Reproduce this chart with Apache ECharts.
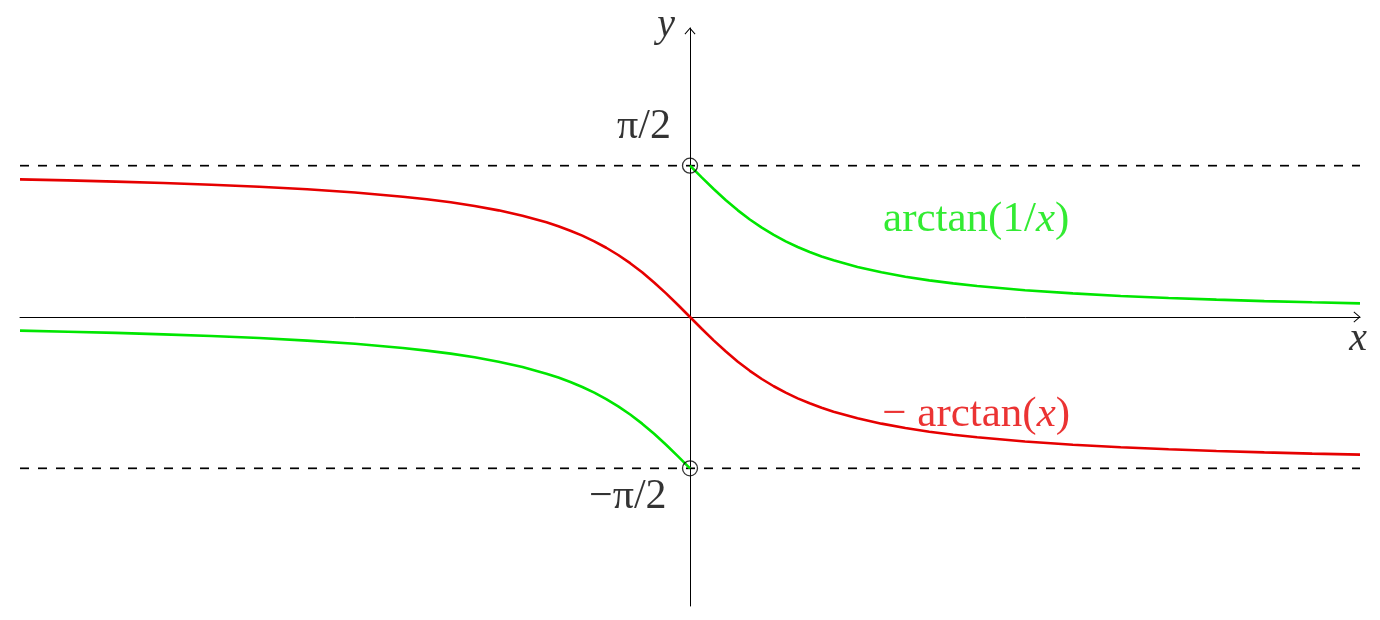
<!DOCTYPE html>
<html>
<head>
<meta charset="utf-8">
<script src="https://cdn.jsdelivr.net/npm/echarts@6/dist/echarts.min.js"></script>
<style>html,body{margin:0;padding:0;background:#fff;}#c{width:1380px;height:620px;}</style>
</head>
<body>
<div id="c"></div>
<script>
// -arctan(x)
const redX = [-7,-6.5,-6,-5.5,-5,-4.5,-4,-3.5,-3,-2.75,-2.5,-2.25,-2,-1.75,-1.5,-1.375,-1.25,-1.125,-1,-0.875,-0.75,-0.625,-0.5,-0.375,-0.25,-0.125,0,
  0.125,0.25,0.375,0.5,0.625,0.75,0.875,1,1.125,1.25,1.375,1.5,1.75,2,2.25,2.5,2.75,3,3.5,4,4.5,5,5.5,6,6.5,7];
const redY = [1.4289,1.4181,1.4056,1.3909,1.3734,1.3521,1.3258,1.2925,1.2490,1.2220,1.1903,1.1526,1.1071,1.0517,0.9828,0.9420,0.8961,0.8442,0.7854,0.7188,0.6435,0.5586,0.4636,0.3588,0.2450,0.1244,0,
  -0.1244,-0.2450,-0.3588,-0.4636,-0.5586,-0.6435,-0.7188,-0.7854,-0.8442,-0.8961,-0.9420,-0.9828,-1.0517,-1.1071,-1.1526,-1.1903,-1.2220,-1.2490,-1.2925,-1.3258,-1.3521,-1.3734,-1.3909,-1.4056,-1.4181,-1.4289];
// arctan(1/x), right branch
const greenRX = [0,0.125,0.25,0.375,0.5,0.625,0.75,0.875,1,1.125,1.25,1.375,1.5,1.75,2,2.25,2.5,2.75,3,3.5,4,4.5,5,5.5,6,6.5,7];
const greenRY = [1.5708,1.4464,1.3258,1.2120,1.1071,1.0122,0.9273,0.8520,0.7854,0.7266,0.6747,0.6288,0.5880,0.5191,0.4636,0.4182,0.3805,0.3488,0.3218,0.2783,0.2450,0.2187,0.1974,0.1799,0.1652,0.1527,0.1419];
// arctan(1/x), left branch
const greenLX = [-7,-6.5,-6,-5.5,-5,-4.5,-4,-3.5,-3,-2.75,-2.5,-2.25,-2,-1.75,-1.5,-1.375,-1.25,-1.125,-1,-0.875,-0.75,-0.625,-0.5,-0.375,-0.25,-0.125,0];
const greenLY = [-0.1419,-0.1527,-0.1652,-0.1799,-0.1974,-0.2187,-0.2450,-0.2783,-0.3218,-0.3488,-0.3805,-0.4182,-0.4636,-0.5191,-0.5880,-0.6288,-0.6747,-0.7266,-0.7854,-0.8520,-0.9273,-1.0122,-1.1071,-1.2120,-1.3258,-1.4464,-1.5708];
const asymptotes = [1.5708, -1.5708];
const openPoints = [[0, 1.5708], [0, -1.5708]];
const labelTexts = ['π/2', '−π/2', 'y', 'x', 'arctan(1/x)', '− arctan(x)'];
const labelX = [-0.48, -0.65, -0.25, 6.98, 2.99, 2.99];
const labelY = [1.97, -1.87, 3.03, -0.23, 1.01, -1.01];

const zip = (a, b) => a.map((v, i) => [v, b[i]]);
const font = '"Liberation Serif", "DejaVu Serif", serif';
const arrow = 'path://M0,0 L6,7 L5.2,7.7 L0,1.6 L-5.2,7.7 L-6,7 Z';

function fmt(t) {
  return t.replace(/[xy]/g, m => '{i|' + m + '}').replace(/(^|\})([^{}]+)(?=\{|$)/g, (m, a, b) => a + '{n|' + b + '}');
}
const labelColors = ['#000', '#000', '#000', '#000', '#00e600', '#e60000'];
const labelSizes = [42, 42, 40, 40, 43, 43];

const chart = echarts.init(document.getElementById('c'), null, { renderer: 'canvas' });
chart.setOption({
  animation: false,
  backgroundColor: '#fff',
  grid: { left: 20, right: 20, top: 28, bottom: 14, containLabel: false },
  xAxis: {
    type: 'value', min: -7, max: 7,
    axisLine: { onZero: true, lineStyle: { color: '#000', width: 1 }, symbol: ['none', arrow], symbolSize: [11, 7], symbolOffset: [0, -3] },
    axisTick: { show: false }, axisLabel: { show: false }, splitLine: { show: false }
  },
  yAxis: {
    type: 'value', min: -3, max: 3,
    axisLine: { onZero: true, lineStyle: { color: '#000', width: 1 }, symbol: ['none', arrow], symbolSize: [11, 7], symbolOffset: [0, -3] },
    axisTick: { show: false }, axisLabel: { show: false }, splitLine: { show: false }
  },
  series: [
    ...asymptotes.map(v => ({
      type: 'line', data: [[-7, v], [7, v]], symbol: 'none', silent: true,
      lineStyle: { color: '#000', width: 1.7, type: [9, 9] }, z: 1
    })),
    { type: 'line', data: zip(redX, redY), symbol: 'none', smooth: false,
      lineStyle: { color: '#e60000', width: 2.6 }, z: 3 },
    { type: 'line', data: zip(greenRX, greenRY), symbol: 'none', smooth: false,
      lineStyle: { color: '#00e600', width: 2.6 }, z: 3 },
    { type: 'line', data: zip(greenLX, greenLY), symbol: 'none', smooth: false,
      lineStyle: { color: '#00e600', width: 2.6 }, z: 3 },
    { type: 'scatter', data: openPoints, symbol: 'circle', symbolSize: 15, z: 5,
      itemStyle: { color: 'rgba(0,0,0,0)', borderColor: '#000', borderWidth: 1.3 } },
    { type: 'scatter', clip: false, symbolSize: 0, z: 6, silent: true,
      data: labelTexts.map((t, i) => ({
        value: [labelX[i], labelY[i]],
        label: {
          show: true, position: 'inside', align: 'center', verticalAlign: 'middle',
          formatter: fmt(t), color: labelColors[i],
          rich: {
            n: { fontFamily: font, fontSize: labelSizes[i], color: labelColors[i] },
            i: { fontFamily: font, fontSize: labelSizes[i], fontStyle: 'italic', color: labelColors[i] }
          }
        }
      }))
    }
  ]
});
</script>
</body>
</html>
